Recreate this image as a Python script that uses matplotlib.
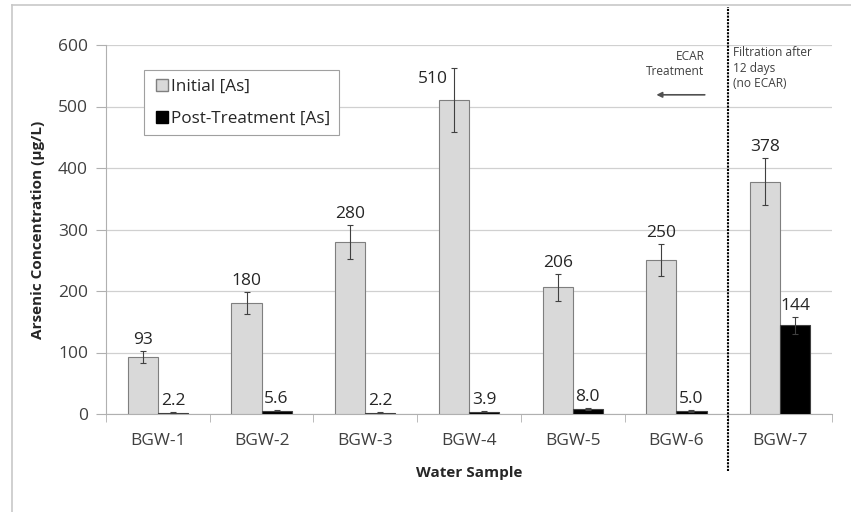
import matplotlib.pyplot as plt
from matplotlib.lines import Line2D
import numpy as np

plt.rcParams['font.family'] = ['Open Sans', 'DejaVu Sans']

samples = ["BGW-1", "BGW-2", "BGW-3", "BGW-4", "BGW-5", "BGW-6", "BGW-7"]
initial = [93, 180, 280, 510, 206, 250, 378]
initial_err = [10, 18, 28, 52, 22, 26, 38]
post = [2.2, 5.6, 2.2, 3.9, 8.0, 5.0, 144]
post_err = [1, 1.5, 1, 1, 1.5, 1.5, 14]
initial_labels = ["93", "180", "280", "510", "206", "250", "378"]
post_labels = ["2.2", "5.6", "2.2", "3.9", "8.0", "5.0", "144"]

fig = plt.figure(figsize=(8.51, 5.12), dpi=100)
ax = fig.add_axes([106 / 851, 1 - 414 / 512, (832 - 106) / 851, (414 - 45) / 512])

x = np.arange(len(samples))
w = 0.29
ax.bar(x - w / 2, initial, w, color="#d9d9d9", edgecolor="#7f7f7f", linewidth=0.8,
       label="Initial [As]", zorder=3)
ax.bar(x + w / 2, post, w, color="black", edgecolor="#404040", linewidth=0.8,
       label="Post-Treatment [As]", zorder=3)
ax.errorbar(x - w / 2, initial, yerr=initial_err, fmt="none", ecolor="#404040",
            elinewidth=0.8, capsize=2, capthick=0.8, zorder=4)
ax.errorbar(x + w / 2, post, yerr=post_err, fmt="none", ecolor="#404040",
            elinewidth=0.8, capsize=2, capthick=0.8, zorder=4)

for xi, v, e, lab in zip(x, initial, initial_err, initial_labels):
    if v + e > 540:
        # no room above: Excel pushed the label to the left of the error bar
        ax.text(xi - w / 2 - 0.06, v + e - 18, lab, ha="right", va="center", fontsize=12.5,
                color="#262626")
    else:
        ax.text(xi - w / 2, v + e + 5, lab, ha="center", va="bottom", fontsize=12.5,
                color="#262626")
for xi, v, e, lab in zip(x, post, post_err, post_labels):
    ax.text(xi + w / 2, v + e + 5, lab, ha="center", va="bottom", fontsize=12.5, color="#262626")

ax.set_xlim(-0.5, len(samples) - 0.5)
ax.set_ylim(0, 600)
ax.set_yticks(range(0, 601, 100))
ax.yaxis.grid(True, color="#d0d0d0", linewidth=0.9, zorder=0)
ax.set_axisbelow(True)

ax.set_xticks(x)
ax.set_xticklabels(samples)
ax.set_xticks(np.arange(-0.5, len(samples), 1), minor=True)
ax.tick_params(axis="x", which="major", length=0, pad=14, labelsize=12.5, labelcolor="#404040")
ax.tick_params(axis="x", which="minor", length=6, color="#b0b0b0", direction="out")
ax.tick_params(axis="y", length=7, color="#b0b0b0", labelsize=12.5, labelcolor="#404040", pad=6)

for s in ["top", "right"]:
    ax.spines[s].set_visible(False)
ax.spines["left"].set_color("#b0b0b0")
ax.spines["bottom"].set_color("#b0b0b0")

ax.set_ylabel("Arsenic Concentration (µg/L)", fontsize=11, fontweight="bold", color="#262626", labelpad=9)
ax.set_xlabel("Water Sample", fontsize=11, fontweight="bold", color="#262626", labelpad=12)

handles = [
    Line2D([], [], marker="s", linestyle="none", markersize=8, markerfacecolor="#d9d9d9",
           markeredgecolor="#7f7f7f"),
    Line2D([], [], marker="s", linestyle="none", markersize=8, markerfacecolor="black",
           markeredgecolor="black"),
]
leg = ax.legend(handles, ["Initial [As]", "Post-Treatment [As]"], loc="upper left",
                bbox_to_anchor=(0.053, 0.932), frameon=True, fancybox=False, fontsize=12.3,
                handletextpad=0.05, handlelength=1.0, borderpad=0.5, labelspacing=0.95,
                borderaxespad=0, edgecolor="#a0a0a0", framealpha=1)
leg.get_frame().set_linewidth(0.8)
for t in leg.get_texts():
    t.set_color("#262626")

# divider between ECAR samples and BGW-7
ax.plot([5.5, 5.5], [-92, 662], linestyle=(0, (1, 0.6)), color="black", linewidth=1.5,
        clip_on=False, zorder=5)
ax.text(5.27, 592, "ECAR\nTreatment", ha="right", va="top", fontsize=8.6, color="#404040",
        linespacing=1.25)
ax.annotate("", xy=(4.78, 519), xytext=(5.3, 519),
            arrowprops=dict(arrowstyle="-|>", color="#505050", lw=1.2, mutation_scale=8))
ax.text(5.55, 598, "Filtration after\n12 days\n(no ECAR)", ha="left", va="top", fontsize=8.6,
        color="#404040", linespacing=1.25)

# outer chart frame
fig.add_artist(Line2D([12 / 851, 12 / 851], [0, 1 - 5 / 512], color="#c8c8c8", lw=1.2))
fig.add_artist(Line2D([12 / 851, 1], [1 - 5 / 512, 1 - 5 / 512], color="#c8c8c8", lw=1.2))

fig.savefig("out.png", dpi=100)
